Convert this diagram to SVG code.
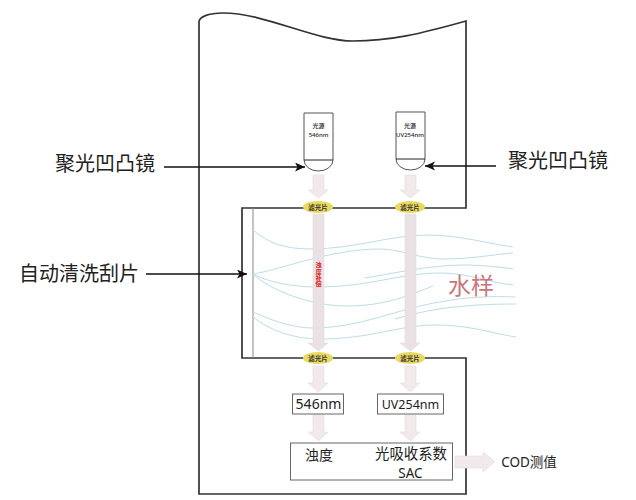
<svg xmlns="http://www.w3.org/2000/svg" width="636" height="500" viewBox="0 0 636 500">
<style>
text{font-family:"Noto Sans","Noto Sans CJK SC",sans-serif;fill:#222;text-anchor:middle}
.wall{fill:none;stroke:#333;stroke-width:1.7}
.box{fill:#fff;stroke:#666;stroke-width:1}
.flow{fill:none;stroke:#bddde6;stroke-width:1}
.beam{fill:#f1e9ea;stroke:#e4dcde;stroke-width:.6}
.long{fill:#e9e1e3}
.lab{font-size:20px}
.filter{fill:#e9d95f}
.ft{font-size:6.500px;font-weight:700;fill:#333}
.small{font-size:6px;font-weight:500;fill:#222}
.lead{fill:none;stroke:#111;stroke-width:1.3}
</style>
<defs>
<marker id="ah" markerUnits="userSpaceOnUse" markerWidth="12" markerHeight="10" refX="10" refY="4.500" orient="auto"><path d="M0 0L10 4.500L0 9L2.500 4.500Z" fill="#111"/></marker>
</defs>
<g id="housing">
<path class="wall" d="M466 208V21C420 34 390 41 353 41C315 41 265 13 223 13C208 13 199 17 199 22V494H466V358H242V208Z"/>
<path d="M253 208V358" fill="none" stroke="#888" stroke-width="1"/>
</g>
<g id="water">
<path class="flow" d="M253 230C268 243 285 249 310 249C355 249 390 235 427 235C460 235 490 244 513 247"/>
<path class="flow" d="M253 274C280 270 330 249 380 249C400 249 420 259 443 259C470 259 490 255 513 253"/>
<path class="flow" d="M365 278C390 274 430 265 463 265C480 265 500 267 513 269"/>
<path class="flow" d="M253 274C270 283 295 287 317 287C370 287 400 273 440 273C470 273 490 283 513 285"/>
<path class="flow" d="M253 274C270 290 310 306 347 306C385 306 410 295 433 286"/>
<path class="flow" d="M253 312C275 322 295 328 313 328C360 328 400 308 440 302C465 297 490 296 515 297"/>
<path class="flow" d="M395 319C420 312 450 304 516 304"/>
<path class="flow" d="M253 317C270 331 295 339 320 339C370 339 400 325 435 325C470 325 490 333 516 337"/>
<text x="471" y="294" font-size="23" style="fill:#c8757c;font-family:'Noto Sans CJK SC',sans-serif">水样</text>
</g>
<g id="source-546">
<path d="M304 160V113H333V160A14.500 11 0 0 1 304 160Z" fill="#fff" stroke="#555" stroke-width="1"/>
<path d="M304 160H333" stroke="#222" stroke-width="1"/>
<text x="318.500" y="128" class="small">光源</text>
<text x="318.500" y="137" class="small">546nm</text>
</g>
<g id="source-254">
<path d="M396 159V112H425V159A14.500 11 0 0 1 396 159Z" fill="#fff" stroke="#555" stroke-width="1"/>
<path d="M396 159H425" stroke="#222" stroke-width="1"/>
<text x="410" y="128" class="small">光源</text>
<text x="410" y="137" class="small">UV254nm</text>
</g>
<g id="connectors">
<path class="beam" d="M313 175H324V190H328L318.500 198L308 190H313Z"/>
<path class="beam" d="M405 175H416V190H420L410.500 198L400 190H405Z"/>
<path class="beam long" d="M313 214H324V343H328L318.500 351L308 343H313Z"/>
<path class="beam long" d="M405 214H416V343H420L410.500 351L400 343H405Z"/>
<path class="beam" d="M313 366H324V383H328L318.500 392L308 383H313Z"/>
<path class="beam" d="M405 366H416V383H420L410.500 392L400 383H405Z"/>
<path class="beam" d="M313 415H324V432H328L318.500 441L308 432H313Z"/>
<path class="beam" d="M405 415H416V432H420L410.500 441L400 432H405Z"/>
<path class="beam" d="M455 456H483V452L495 461.500L483 472V468H455Z"/>
<path class="lead" d="M164 167H305" marker-end="url(#ah)"/>
<path class="lead" d="M496 166H425" marker-end="url(#ah)"/>
<path class="lead" d="M146 274H247" marker-end="url(#ah)"/>
</g>
<g id="turbidity-comp">
<text x="318.500" y="262" font-size="6.200" font-weight="700" writing-mode="vertical-rl" style="fill:#d22;text-anchor:start;font-family:'Noto Sans CJK SC',sans-serif">浊度补偿</text>
</g>
<g id="filter-1"><ellipse class="filter" cx="318" cy="207" rx="15" ry="6"/><text x="318" y="210" class="ft">滤光片</text></g>
<g id="filter-2"><ellipse class="filter" cx="410" cy="207" rx="15" ry="6"/><text x="410" y="210" class="ft">滤光片</text></g>
<g id="filter-3"><ellipse class="filter" cx="318" cy="358" rx="15" ry="6"/><text x="318" y="361" class="ft">滤光片</text></g>
<g id="filter-4"><ellipse class="filter" cx="410" cy="358" rx="15" ry="6"/><text x="410" y="361" class="ft">滤光片</text></g>
<g id="det-546"><rect class="box" x="292.500" y="394" width="51" height="20"/><text x="318.500" y="409" font-size="14">546nm</text></g>
<g id="det-254"><rect class="box" x="377.500" y="394" width="66" height="20"/><text x="410.500" y="409" font-size="12.500">UV254nm</text></g>
<g id="result"><rect class="box" x="290.500" y="443" width="162" height="37"/>
<text x="319" y="460" font-size="14">浊度</text>
<text x="411" y="459" font-size="14.400">光吸收系数</text>
<text x="410.500" y="478" font-size="13.500">SAC</text></g>
<g id="label-cod"><text x="529" y="467" font-size="13.500">COD测值</text></g>
<g id="label-lens-l"><text x="105" y="171" class="lab">聚光凹凸镜</text></g>
<g id="label-lens-r"><text x="558" y="168" class="lab">聚光凹凸镜</text></g>
<g id="label-wiper"><text x="79" y="281" class="lab">自动清洗刮片</text></g>
</svg>
